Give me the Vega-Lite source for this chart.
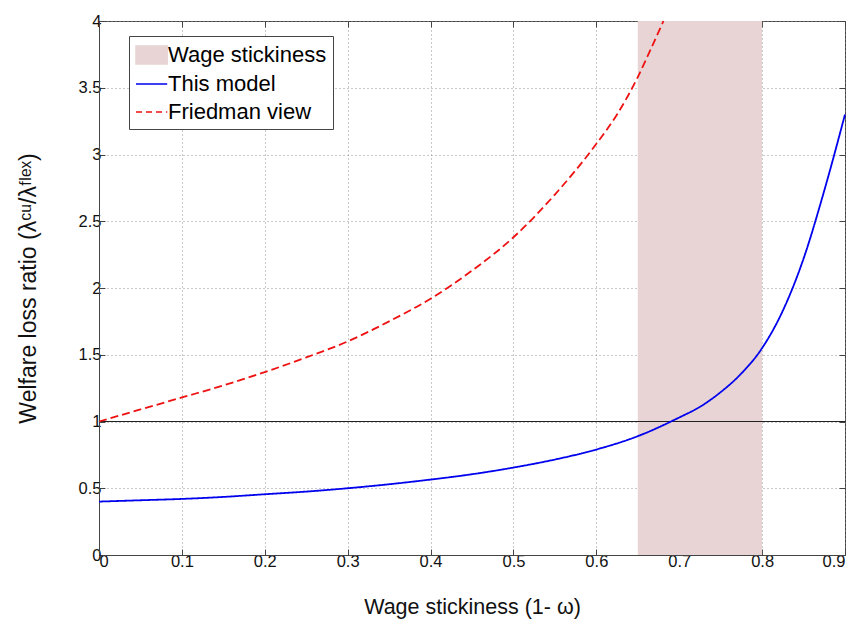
{
  "$schema": "https://vega.github.io/schema/vega-lite/v6.json",
  "width": 746,
  "height": 534,
  "autosize": {"type": "none"},
  "padding": {"left": 99, "top": 21, "right": 15, "bottom": 73},
  "background": "white",
  "config": {
    "view": {"stroke": "#444", "strokeWidth": 1},
    "font": "Liberation Sans",
    "axis": {
      "labelFont": "Liberation Sans",
      "titleFont": "Liberation Sans",
      "labelFontSize": 16.5,
      "labelColor": "#111",
      "titleFontSize": 21.5,
      "titleFontWeight": "normal",
      "titleColor": "#111",
      "domainColor": "#444",
      "tickColor": "#444",
      "tickSize": -6,
      "gridColor": "#888",
      "gridDash": [1, 3],
      "gridOpacity": 0.9
    }
  },
  "resolve": {"axis": {"x": "independent", "y": "independent"}},
  "datasets": {
    "curves": [
      {"x": 0.0, "y": 0.40, "series": "This model"},
      {"x": 0.05, "y": 0.41, "series": "This model"},
      {"x": 0.1, "y": 0.42, "series": "This model"},
      {"x": 0.15, "y": 0.435, "series": "This model"},
      {"x": 0.2, "y": 0.455, "series": "This model"},
      {"x": 0.25, "y": 0.475, "series": "This model"},
      {"x": 0.3, "y": 0.50, "series": "This model"},
      {"x": 0.35, "y": 0.53, "series": "This model"},
      {"x": 0.4, "y": 0.565, "series": "This model"},
      {"x": 0.45, "y": 0.605, "series": "This model"},
      {"x": 0.5, "y": 0.655, "series": "This model"},
      {"x": 0.55, "y": 0.715, "series": "This model"},
      {"x": 0.6, "y": 0.79, "series": "This model"},
      {"x": 0.65, "y": 0.89, "series": "This model"},
      {"x": 0.7, "y": 1.03, "series": "This model"},
      {"x": 0.725, "y": 1.11, "series": "This model"},
      {"x": 0.75, "y": 1.22, "series": "This model"},
      {"x": 0.775, "y": 1.36, "series": "This model"},
      {"x": 0.8, "y": 1.55, "series": "This model"},
      {"x": 0.825, "y": 1.83, "series": "This model"},
      {"x": 0.85, "y": 2.22, "series": "This model"},
      {"x": 0.875, "y": 2.73, "series": "This model"},
      {"x": 0.9, "y": 3.3, "series": "This model"},
      {"x": 0.0, "y": 1.0, "series": "Friedman view"},
      {"x": 0.05, "y": 1.09, "series": "Friedman view"},
      {"x": 0.1, "y": 1.18, "series": "Friedman view"},
      {"x": 0.15, "y": 1.27, "series": "Friedman view"},
      {"x": 0.2, "y": 1.37, "series": "Friedman view"},
      {"x": 0.25, "y": 1.48, "series": "Friedman view"},
      {"x": 0.3, "y": 1.6, "series": "Friedman view"},
      {"x": 0.35, "y": 1.75, "series": "Friedman view"},
      {"x": 0.4, "y": 1.92, "series": "Friedman view"},
      {"x": 0.45, "y": 2.13, "series": "Friedman view"},
      {"x": 0.5, "y": 2.38, "series": "Friedman view"},
      {"x": 0.55, "y": 2.7, "series": "Friedman view"},
      {"x": 0.6, "y": 3.08, "series": "Friedman view"},
      {"x": 0.625, "y": 3.3, "series": "Friedman view"},
      {"x": 0.65, "y": 3.58, "series": "Friedman view"},
      {"x": 0.665, "y": 3.78, "series": "Friedman view"},
      {"x": 0.681, "y": 4.0, "series": "Friedman view"}
    ],
    "band": [{"x1": 0.65, "x2": 0.8, "series": "Wage stickiness"}],
    "ref": [{"y": 1}]
  },
  "layer": [
    {
      "data": {"name": "band"},
      "mark": {"type": "rect", "opacity": 1},
      "encoding": {
        "x": {"field": "x1", "type": "quantitative",
          "scale": {"domain": [0, 0.9], "nice": false, "zero": false},
          "axis": {
            "values": [0, 0.1, 0.2, 0.3, 0.4, 0.5, 0.6, 0.7, 0.8, 0.9],
            "format": "~g",
            "grid": true,
            "title": "Wage stickiness (1- ω)",
            "titlePadding": 27,
            "labelPadding": 4
          }},
        "x2": {"field": "x2"},
        "color": {"field": "series", "type": "nominal",
          "scale": {"domain": ["Wage stickiness", "This model", "Friedman view"], "range": ["#e8d4d4", "#0000ee", "#ee1111"]},
          "legend": {
            "title": null,
            "orient": "none",
            "legendX": 30,
            "legendY": 15,
            "direction": "vertical",
            "strokeColor": "#444",
            "fillColor": "white",
            "padding": 6,
            "labelFont": "Liberation Sans",
            "labelFontSize": 22,
            "labelColor": "#000",
            "labelOffset": 7,
            "symbolSize": 576,
            "rowPadding": 4,
            "encoding": {
              "symbols": {
                "shape": {"value": {"expr": "datum.value === 'Wage stickiness' ? 'M-1,-0.75H1.6V0.75H-1Z' : 'M-1,0H1.6'"}},
                "strokeDash": {"value": {"expr": "datum.value === 'Friedman view' ? [6,4] : [1,0]"}},
                "strokeWidth": {"value": 1.5},
                "fill": {"value": {"expr": "datum.value === 'Wage stickiness' ? '#e8d4d4' : 'transparent'"}},
                "stroke": {"value": {"expr": "datum.value === 'Wage stickiness' ? 'transparent' : (datum.value === 'This model' ? '#0000ee' : '#ee1111')"}},
                "opacity": {"value": 1},
                "fillOpacity": {"value": 1},
                "strokeOpacity": {"value": 1}
              }
            }
          }}
      }
    },
    {
      "data": {"name": "ref"},
      "mark": {"type": "rule", "color": "#222", "strokeWidth": 1},
      "encoding": {
        "y": {"field": "y", "type": "quantitative",
          "axis": {
            "orient": "right",
            "values": [0, 0.5, 1, 1.5, 2, 2.5, 3, 3.5, 4],
            "labels": false,
            "title": null,
            "grid": false,
            "domain": false
          }}
      }
    },
    {
      "data": {"name": "curves"},
      "mark": {"type": "line", "interpolate": "monotone", "strokeWidth": 1.8},
      "encoding": {
        "x": {"field": "x", "type": "quantitative",
          "axis": {
            "orient": "top",
            "values": [0, 0.1, 0.2, 0.3, 0.4, 0.5, 0.6, 0.7, 0.8, 0.9],
            "labels": false,
            "title": null,
            "grid": false,
            "domain": false
          }},
        "y": {"field": "y", "type": "quantitative",
          "scale": {"domain": [0, 4], "nice": false},
          "axis": {
            "values": [0, 0.5, 1, 1.5, 2, 2.5, 3, 3.5, 4],
            "format": "~g",
            "grid": true,
            "title": "Welfare loss ratio (λᶜᵘ/λᶠˡᵉˣ)",
            "titleFontSize": 23,
            "titlePadding": 38,
            "labelPadding": 4
          }},
        "color": {"field": "series", "type": "nominal", "legend": null},
        "strokeDash": {"field": "series", "type": "nominal",
          "scale": {"domain": ["This model", "Friedman view"], "range": [[1, 0], [8, 4]]},
          "legend": null}
      }
    }
  ]
}
